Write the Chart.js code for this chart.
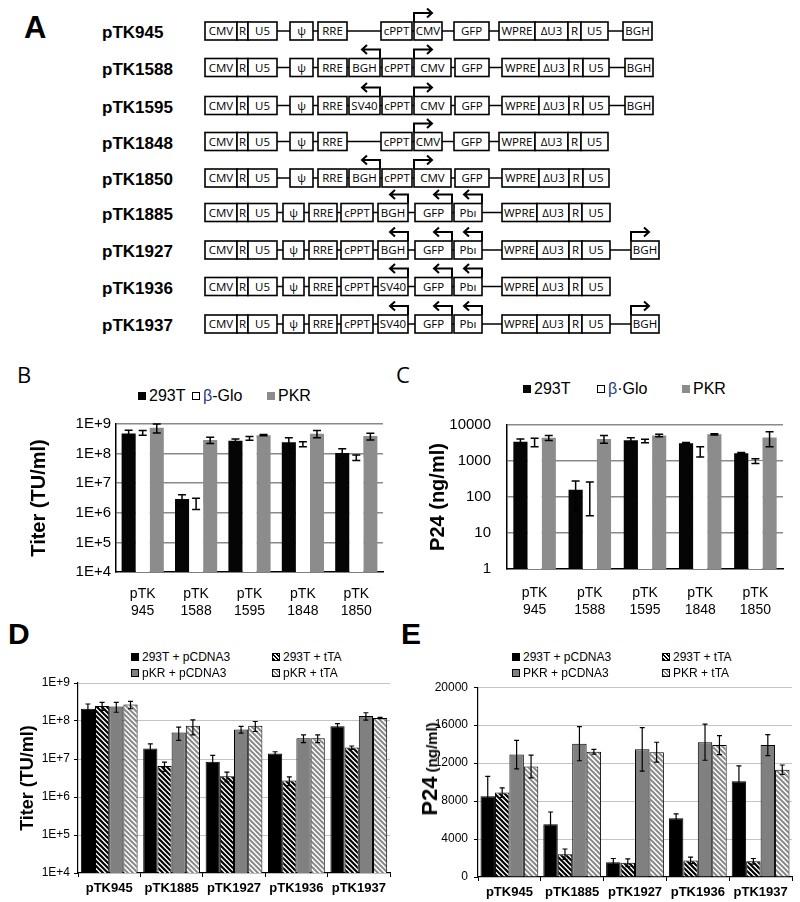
<!DOCTYPE html>
<html><head><meta charset="utf-8">
<script src="https://cdn.jsdelivr.net/npm/chart.js@4.4.1/dist/chart.umd.min.js"></script>
<style>
html,body{margin:0;padding:0;background:#fff}
body{width:800px;height:902px;position:relative;overflow:hidden;font-family:"Liberation Sans",Arial,sans-serif;color:#000}
canvas{position:absolute}
.plab{position:absolute;line-height:1}
.leg{position:absolute;white-space:nowrap;line-height:1;transform:translateY(-50%)}
.sw{display:inline-block;vertical-align:middle;margin-right:3px;box-sizing:border-box;position:relative;top:-1px}
#diag text.rl{font:bold 17px "Liberation Sans",Arial,sans-serif}
#diag text.bt{font:11.5px "Open Sans","DejaVu Sans",sans-serif;text-anchor:middle}
.ytitle{position:absolute;white-space:nowrap;font-weight:bold;transform:translate(-50%,-50%) rotate(-90deg);line-height:1}
</style></head>
<body>
<svg id="diag" width="800" height="345" style="position:absolute;left:0;top:0"></svg>
<div class="plab" style="left:24px;top:10px;font:bold 31px 'Liberation Sans',Arial,sans-serif">A</div>
<div class="plab" style="left:17px;top:359px;font:22px 'Open Sans','Liberation Sans',sans-serif">B</div>
<div class="plab" style="left:396px;top:359px;font:22px 'Open Sans','Liberation Sans',sans-serif">C</div>
<div class="plab" style="left:8px;top:617px;font:bold 30px 'Liberation Sans',Arial,sans-serif">D</div>
<div class="plab" style="left:401px;top:617px;font:bold 30px 'Liberation Sans',Arial,sans-serif">E</div>
<canvas id="cB" width="385" height="215" style="left:0;top:410px;width:385px;height:215px"></canvas>
<canvas id="cC" width="385" height="225" style="left:400px;top:400px;width:385px;height:225px"></canvas>
<canvas id="cD" width="392" height="232" style="left:0;top:670px;width:392px;height:232px"></canvas>
<canvas id="cE" width="394" height="228" style="left:400px;top:674px;width:394px;height:228px"></canvas>
<div class="ytitle" style="left:430px;top:769px"><span style="font-size:22px">P24</span><span style="font-size:15px"> (ng/ml)</span></div>
<div id="legends"></div>
<script>
// ---------- DATA ----------
const categoriesBC = [['pTK','945'],['pTK','1588'],['pTK','1595'],['pTK','1848'],['pTK','1850']];
const seriesB = ['293T','β-Glo','PKR'];
const seriesC = ['293T','β·Glo','PKR'];

const titer293T    = [4.8e8, 2.9e6, 2.7e8, 2.4e8, 1.05e8];
const titer293TErr = [1.3e8, 1.2e6, 0.4e8, 1.0e8, 0.4e8];
const titerGlo     = [5.1e8, 2.2e6, 3.3e8, 2.1e8, 7.4e7];
const titerGloErr  = [0.9e8, 0.9e6, 0.5e8, 0.4e8, 1.5e7];
const titerPKR     = [7.5e8, 2.9e8, 4.2e8, 4.7e8, 3.9e8];
const titerPKRErr  = [2.5e8, 0.7e8, 0.2e8, 1.3e8, 1.0e8];
const tickValuesB  = [1e4, 1e5, 1e6, 1e7, 1e8, 1e9];
const tickLabelsB  = ['1E+4','1E+5','1E+6','1E+7','1E+8','1E+9'];

const p24_293T    = [3400, 160, 3800, 3100, 1650];
const p24_293TErr = [700, 120, 600, 150, 80];
const p24Glo      = [3400, 145, 3600, 1900, 1000];
const p24GloErr   = [900, 115, 400, 600, 150];
const p24PKR      = [4400, 4100, 5100, 5500, 4500];
const p24PKRErr   = [700, 1000, 400, 200, 2000];
const tickValuesC = [1, 10, 100, 1000, 10000];
const tickLabelsC = ['1','10','100','1000','10000'];

const categoriesDE = ['pTK945','pTK1885','pTK1927','pTK1936','pTK1937'];
const seriesD = ['293T + pCDNA3','293T + tTA','pKR + pCDNA3','pKR + tTA'];
const seriesE = ['293T + pCDNA3','293T + tTA','PKR + pCDNA3','PKR + tTA'];

const dT_pC    = [2.1e8, 1.9e7, 8.5e6, 1.4e7, 7.3e7];
const dT_pCErr = [0.7e8, 0.6e7, 4.0e6, 0.15e7, 1.2e7];
const dT_tTA    = [2.5e8, 6.5e6, 3.5e6, 2.7e6, 2.0e7];
const dT_tTAErr = [0.6e8, 1.8e6, 1.0e6, 0.7e6, 0.2e7];
const dP_pC    = [2.4e8, 5.0e7, 6.0e7, 3.5e7, 1.35e8];
const dP_pCErr = [0.7e8, 1.9e7, 1.2e7, 0.8e7, 0.3e8];
const dP_tTA    = [2.7e8, 7.5e7, 7.5e7, 3.5e7, 1.2e8];
const dP_tTAErr = [0.6e8, 3.2e7, 2.2e7, 0.8e7, 0.05e8];
const tickValuesD = [1e4, 1e5, 1e6, 1e7, 1e8, 1e9];
const tickLabelsD = ['1E+4','1E+5','1E+6','1E+7','1E+8','1E+9'];

const eT_pC    = [8500, 5550, 1550, 6200, 10100];
const eT_pCErr = [2100, 1300, 400, 450, 1600];
const eT_tTA    = [8900, 2400, 1500, 1750, 1650];
const eT_tTAErr = [500, 550, 400, 350, 300];
const eP_pC    = [12900, 14050, 13450, 14200, 13900];
const eP_pCErr = [1500, 1800, 2300, 1900, 1100];
const eP_tTA    = [11650, 13200, 13150, 13900, 11300];
const eP_tTAErr = [1200, 250, 1050, 1000, 500];
const tickValuesE = [0, 4000, 8000, 12000, 16000, 20000];
const tickLabelsE = ['0','4000','8000','12000','16000','20000'];

// ---------- PANEL A (construct diagram) ----------
const constructNames = ['pTK945','pTK1588','pTK1595','pTK1848','pTK1850','pTK1885','pTK1927','pTK1936','pTK1937'];
const constructParts = [
 [['CMV',205,237],['R',237,248],['U5',248,277],['ψ',290,313],['RRE',318,347],['cPPT',381,412],['CMV',414,442,'R'],['GFP',454,489],['WPRE',499,535],['ΔU3',535,568],['R',568,581],['U5',581,608],['BGH',623,652]],
 [['CMV',205,237],['R',237,248],['U5',248,277],['ψ',290,313],['RRE',318,347],['BGH',349,380,'L'],['cPPT',382,412],['CMV',414,451,'R'],['GFP',455,489],['WPRE',502,539],['ΔU3',539,569],['R',569,583],['U5',583,609],['BGH',625,653]],
 [['CMV',205,237],['R',237,248],['U5',248,277],['ψ',290,313],['RRE',318,347],['SV40',349,380,'L'],['cPPT',382,412],['CMV',414,451,'R'],['GFP',455,489],['WPRE',502,539],['ΔU3',539,569],['R',569,583],['U5',583,609],['BGH',625,653]],
 [['CMV',205,237],['R',237,248],['U5',248,277],['ψ',290,313],['RRE',318,347],['cPPT',381,412],['CMV',414,442,'R'],['GFP',454,489],['WPRE',499,535],['ΔU3',535,568],['R',568,581],['U5',581,608]],
 [['CMV',205,237],['R',237,248],['U5',248,277],['ψ',290,313],['RRE',318,347],['BGH',349,380,'L'],['cPPT',382,412],['CMV',414,451,'R'],['GFP',455,489],['WPRE',502,539],['ΔU3',539,569],['R',569,583],['U5',583,609]],
 [['CMV',205,237],['R',237,248],['U5',248,277],['ψ',283,304],['RRE',309,337],['cPPT',341,373],['BGH',378,408,'L'],['GFP',415,452,'L'],['Pbı',454,482,'L'],['WPRE',502,537],['ΔU3',537,569],['R',569,582],['U5',582,610]],
 [['CMV',205,237],['R',237,248],['U5',248,277],['ψ',283,304],['RRE',309,337],['cPPT',341,373],['BGH',378,408,'L'],['GFP',415,452,'L'],['Pbı',454,482,'L'],['WPRE',502,537],['ΔU3',537,569],['R',569,582],['U5',582,610],['BGH',631,659,'R']],
 [['CMV',205,237],['R',237,248],['U5',248,277],['ψ',283,304],['RRE',309,337],['cPPT',341,373],['SV40',378,408,'L'],['GFP',415,452,'L'],['Pbı',454,482,'L'],['WPRE',502,537],['ΔU3',537,569],['R',569,582],['U5',582,610]],
 [['CMV',205,237],['R',237,248],['U5',248,277],['ψ',283,304],['RRE',309,337],['cPPT',341,373],['SV40',378,408,'L'],['GFP',415,452,'L'],['Pbı',454,482,'L'],['WPRE',502,537],['ΔU3',537,569],['R',569,582],['U5',582,610],['BGH',631,659,'R']]
];
const constructRowY = [31, 67.5, 105.5, 141.5, 178, 212.5, 250, 286.5, 324];

(function drawDiagram(){
  let s = '';
  constructNames.forEach((name, i) => {
    const y = constructRowY[i], parts = constructParts[i];
    s += `<text class="rl" x="102" y="${y+7}">${name}</text>`;
    s += `<line x1="${parts[0][1]}" y1="${y}" x2="${parts[parts.length-1][2]}" y2="${y}" stroke="#000" stroke-width="1.6"/>`;
    parts.forEach(([t,a,b,dir]) => {
      s += `<rect x="${a}" y="${y-9}" width="${b-a}" height="18" fill="#fff" stroke="#000" stroke-width="1.6"/>`;
      s += `<text class="bt" x="${(a+b)/2}" y="${y+4}">${t}</text>`;
      const yt = y - 18;
      if (dir === 'R') {
        const xe = a + 18;
        s += `<path d="M${a} ${y-9}V${yt}H${xe} M${xe-5} ${yt-4.5}L${xe} ${yt}L${xe-5} ${yt+4.5}" fill="none" stroke="#000" stroke-width="2"/>`;
      } else if (dir === 'L') {
        const xe = b - 18;
        s += `<path d="M${b} ${y-9}V${yt}H${xe} M${xe+5} ${yt-4.5}L${xe} ${yt}L${xe+5} ${yt+4.5}" fill="none" stroke="#000" stroke-width="2"/>`;
      }
    });
  });
  document.getElementById('diag').innerHTML = s;
})();

// ---------- CHARTS ----------
Chart.defaults.font.family = '"Liberation Sans", Arial, sans-serif';
Chart.defaults.color = '#000';
Chart.defaults.animation = false;

function hatch(fg, bg, size, lw){
  const c = document.createElement('canvas'); c.width = c.height = size;
  const x = c.getContext('2d');
  x.fillStyle = bg; x.fillRect(0,0,size,size);
  x.strokeStyle = fg; x.lineWidth = lw; x.beginPath();
  for (const o of [-size, 0, size]) { x.moveTo(o-1, -1); x.lineTo(o+size+1, size+1); }
  x.stroke();
  return x.createPattern(c, 'repeat');
}
const darkHatch = hatch('#000', '#fff', 5, 2.2);
const lightHatch = hatch('#8a8a8a', '#fff', 5, 2);

const errorBars = {
  id: 'errorBars',
  afterDatasetsDraw(chart, args, opts) {
    const {ctx} = chart, y = chart.scales.y;
    chart.data.datasets.forEach((ds, i) => {
      const meta = chart.getDatasetMeta(i);
      if (!ds.errors) return;
      meta.data.forEach((bar, j) => {
        const v = ds.data[j], e = ds.errors[j];
        const top = y.getPixelForValue(v + e);
        const lowV = v - e;
        const bot = y.getPixelForValue(lowV > y.min ? lowV : y.min);
        const c = opts.cap;
        ctx.save();
        ctx.strokeStyle = '#000'; ctx.lineWidth = opts.width;
        ctx.beginPath();
        ctx.moveTo(bar.x, top); ctx.lineTo(bar.x, bot);
        ctx.moveTo(bar.x - c, top); ctx.lineTo(bar.x + c, top);
        ctx.moveTo(bar.x - c, bot); ctx.lineTo(bar.x + c, bot);
        ctx.stroke(); ctx.restore();
      });
    });
  }
};

function makeChart(id, o) {
  return new Chart(document.getElementById(id), {
    type: 'bar',
    data: { labels: o.categories, datasets: o.datasets },
    plugins: [errorBars],
    options: {
      responsive: false,
      layout: { padding: { top: o.padTop, right: o.padRight, left: 0, bottom: 0 } },
      datasets: { bar: { categoryPercentage: o.catPct, barPercentage: 1.0 } },
      plugins: { legend: { display: false }, tooltip: { enabled: false }, errorBars: { cap: o.cap, width: o.errW } },
      scales: {
        x: {
          type: 'category', offset: true,
          grid: { display: o.xTicks, drawOnChartArea: false, drawTicks: true, tickLength: 4, color: '#000', offset: true },
          border: { display: true, color: '#000', width: o.axisW },
          ticks: { font: { size: o.xFont, weight: o.xBold ? 'bold' : 'normal' }, padding: o.xPad, maxRotation: 0, autoSkip: false, color: '#000' },
          afterFit: s => { s.height = o.xHeight; }
        },
        y: {
          type: o.yType, min: o.tickValues[0], max: o.tickValues[o.tickValues.length-1],
          afterBuildTicks: s => { s.ticks = o.tickValues.map(v => ({ value: v })); },
          ticks: { callback: (v, i) => o.tickLabels[i], font: { size: o.yFont }, padding: o.yPad, color: '#000', autoSkip: false },
          grid: {
            color: c => (c.tick && c.tick.value === o.tickValues[0]) ? 'rgba(0,0,0,0)' : o.gridColor,
            lineWidth: o.gridW, drawTicks: o.yTicks, tickLength: 4, tickColor: '#000'
          },
          border: { display: true, color: '#000', width: o.axisW },
          title: { display: !!o.title, text: o.title || '', font: { size: o.titleSize, weight: 'bold' }, padding: { top: o.titlePad, bottom: 0 }, color: '#000' },
          afterFit: s => { s.width = o.yWidth; }
        }
      }
    }
  });
}

makeChart('cB', {
  categories: categoriesBC,
  datasets: [
    { label: seriesB[0], data: titer293T, errors: titer293TErr, backgroundColor: '#050505', borderWidth: 0 },
    { label: seriesB[1], data: titerGlo, errors: titerGloErr, backgroundColor: '#ffffff', borderWidth: 0 },
    { label: seriesB[2], data: titerPKR, errors: titerPKRErr, backgroundColor: '#8c8c8c', borderWidth: 0 }
  ],
  yType: 'logarithmic', tickValues: tickValuesB, tickLabels: tickLabelsB,
  padTop: 13, padRight: 2, catPct: 0.79, cap: 4, errW: 1.5,
  xTicks: false, yTicks: false, axisW: 1.5, xFont: 14, xBold: false, xPad: 10, xHeight: 53,
  yFont: 15, yPad: 5, yWidth: 116, gridColor: '#8a8a8a', gridW: 1.5,
  title: 'Titer (TU/ml)', titleSize: 20, titlePad: 27
});

makeChart('cC', {
  categories: categoriesBC,
  datasets: [
    { label: seriesC[0], data: p24_293T, errors: p24_293TErr, backgroundColor: '#050505', borderWidth: 0 },
    { label: seriesC[1], data: p24Glo, errors: p24GloErr, backgroundColor: '#ffffff', borderWidth: 0 },
    { label: seriesC[2], data: p24PKR, errors: p24PKRErr, backgroundColor: '#8c8c8c', borderWidth: 0 }
  ],
  yType: 'logarithmic', tickValues: tickValuesC, tickLabels: tickLabelsC,
  padTop: 13, padRight: 2, catPct: 0.77, cap: 4, errW: 1.5,
  xTicks: false, yTicks: false, axisW: 1.5, xFont: 14, xBold: false, xPad: 12, xHeight: 56,
  yFont: 15, yPad: 16, yWidth: 107, gridColor: '#8a8a8a', gridW: 1.5,
  title: 'P24 (ng/ml)', titleSize: 20, titlePad: 26
});

makeChart('cD', {
  categories: categoriesDE,
  datasets: [
    { label: seriesD[0], data: dT_pC, errors: dT_pCErr, backgroundColor: '#000', borderColor: '#000', borderWidth: 1 },
    { label: seriesD[1], data: dT_tTA, errors: dT_tTAErr, backgroundColor: darkHatch, borderColor: '#000', borderWidth: 1 },
    { label: seriesD[2], data: dP_pC, errors: dP_pCErr, backgroundColor: '#808080', borderColor: '#000', borderWidth: 1 },
    { label: seriesD[3], data: dP_tTA, errors: dP_tTAErr, backgroundColor: lightHatch, borderColor: '#000', borderWidth: 1 }
  ],
  yType: 'logarithmic', tickValues: tickValuesD, tickLabels: tickLabelsD,
  padTop: 13, padRight: 2, catPct: 0.91, cap: 2.5, errW: 1.2,
  xTicks: true, yTicks: true, axisW: 1.2, xFont: 13, xBold: true, xPad: 4, xHeight: 29,
  yFont: 12, yPad: 4, yWidth: 78, gridColor: '#c4c4c4', gridW: 1,
  title: 'Titer (TU/ml)', titleSize: 18, titlePad: 17
});

makeChart('cE', {
  categories: categoriesDE,
  datasets: [
    { label: seriesE[0], data: eT_pC, errors: eT_pCErr, backgroundColor: '#000', borderColor: '#000', borderWidth: 1 },
    { label: seriesE[1], data: eT_tTA, errors: eT_tTAErr, backgroundColor: darkHatch, borderColor: '#000', borderWidth: 1 },
    { label: seriesE[2], data: eP_pC, errors: eP_pCErr, backgroundColor: '#808080', borderColor: '#000', borderWidth: 1 },
    { label: seriesE[3], data: eP_tTA, errors: eP_tTAErr, backgroundColor: lightHatch, borderColor: '#000', borderWidth: 1 }
  ],
  yType: 'linear', tickValues: tickValuesE, tickLabels: tickLabelsE,
  padTop: 13, padRight: 2, catPct: 0.92, cap: 2.5, errW: 1.2,
  xTicks: true, yTicks: true, axisW: 1.2, xFont: 13, xBold: true, xPad: 4, xHeight: 25,
  yFont: 12, yPad: 6, yWidth: 78, gridColor: '#c4c4c4', gridW: 1,
  title: '', titleSize: 18, titlePad: 0
});

// ---------- LEGENDS ----------
const swB = ['background:#050505', 'background:#fff;border:1px solid #000', 'background:#8c8c8c'];
const swDE = [
  'background:#000',
  'background:repeating-linear-gradient(45deg,#000 0 1.5px,#fff 1.5px 3px);border:1px solid #000',
  'background:#808080;border:1px solid #000',
  'background:repeating-linear-gradient(45deg,#8a8a8a 0 1.5px,#fff 1.5px 3px);border:1px solid #000'
];
function fmt(t){ return t.replace('β','<span style="color:#1f3a8a">β</span>'); }
const legendFontBC = "16px 'Liberation Sans',Arial,sans-serif";
const legendFontDE = "12px 'Liberation Sans',Arial,sans-serif";
let L = '';
function item(x, y, sw, text, font, size){
  L += `<div class="leg" style="left:${x}px;top:${y}px;font:${font}"><span class="sw" style="width:${size}px;height:${size}px;${sw}"></span>${fmt(text)}</div>`;
}
[138,192,267].forEach((x,i) => item(x, 396, swB[i], seriesB[i], legendFontBC, 8));
[523,597,682].forEach((x,i) => item(x, 389, swB[i], seriesC[i], legendFontBC, 8));
[[131,657],[272,657],[131,673],[272,673]].forEach(([x,y],i) => item(x, y, swDE[i], seriesD[i], legendFontDE, 8));
[[512,657],[662,657],[512,673],[662,673]].forEach(([x,y],i) => item(x, y, swDE[i], seriesE[i], legendFontDE, 8));
document.getElementById('legends').innerHTML = L;
</script>
</body></html>
